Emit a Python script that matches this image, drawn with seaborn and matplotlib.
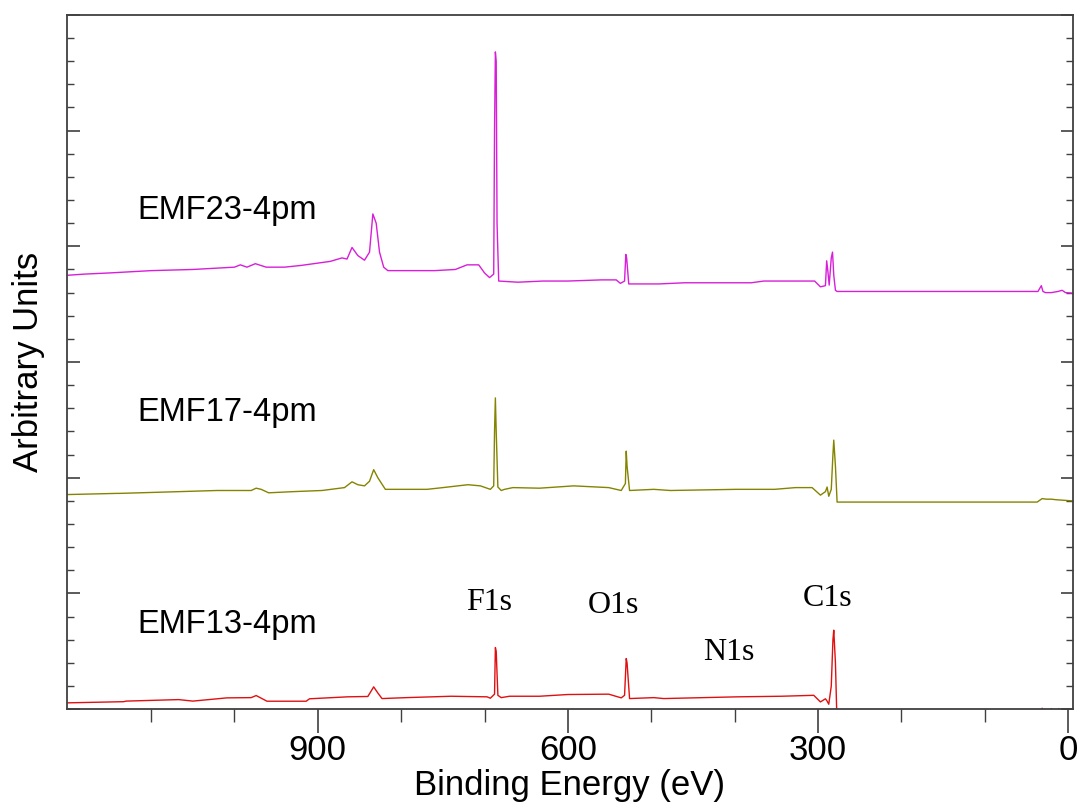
import pandas as pd
import matplotlib.pyplot as plt
import seaborn as sns
from matplotlib.ticker import FixedLocator, MultipleLocator, NullFormatter

# binding energy (eV) and intensity (arbitrary, stacked)
be_23 = [1200, 1180, 1150, 1100, 1050, 1000, 993, 985, 975, 962, 940, 920, 900, 885, 871,
         865, 859, 852, 844, 838, 834, 830, 826, 821, 816, 790, 760, 735, 721, 707, 700,
         694, 689, 688, 687, 686, 685, 683, 660, 630, 600, 560, 542, 537, 532, 530.5, 529.5,
         527, 520, 491, 460, 420, 380, 365, 330, 304, 297, 291, 289.5, 288, 286.5, 284,
         282.5, 281, 279, 277, 250, 200, 150, 100, 60, 36, 32, 30, 27, 20, 12, 7, 3, -6]
int_23 = [3.75, 3.76, 3.77, 3.79, 3.80, 3.82, 3.84, 3.82, 3.85, 3.82, 3.82, 3.835, 3.855,
          3.87, 3.90, 3.89, 3.99, 3.92, 3.88, 3.95, 4.28, 4.20, 3.95, 3.82, 3.79, 3.79, 3.79,
          3.80, 3.84, 3.84, 3.77, 3.73, 3.76, 5.00, 5.68, 5.60, 4.20, 3.70, 3.69, 3.70, 3.70,
          3.71, 3.71, 3.68, 3.70, 3.93, 3.90, 3.675, 3.675, 3.675, 3.685, 3.685, 3.685, 3.70,
          3.70, 3.70, 3.65, 3.66, 3.875, 3.78, 3.665, 3.90, 3.95, 3.75, 3.62, 3.61, 3.61,
          3.61, 3.61, 3.61, 3.61, 3.61, 3.66, 3.61, 3.60, 3.60, 3.61, 3.62, 3.60, 3.595]

be_17 = [1200, 1141, 1138, 1067, 1021, 980, 974, 968, 959, 930, 895, 868, 859, 852, 844,
         838, 833, 828, 819, 769, 750, 720, 705, 693, 689, 688, 687, 686, 684, 680, 676,
         666, 634, 593, 551, 536, 531, 530, 529, 526, 497, 477, 398, 352, 327, 307, 297,
         291, 289, 287, 284, 282, 281, 279, 277, 200, 100, 37, 31, 26, 20, 14, -6]
int_17 = [1.855, 1.865, 1.865, 1.88, 1.89, 1.89, 1.91, 1.90, 1.87, 1.88, 1.89, 1.915,
          1.965, 1.94, 1.93, 1.97, 2.07, 2.00, 1.90, 1.90, 1.915, 1.94, 1.93, 1.90, 1.93,
          2.40, 2.69, 2.40, 1.92, 1.89, 1.90, 1.915, 1.91, 1.93, 1.915, 1.89, 1.95, 2.23,
          2.10, 1.89, 1.90, 1.89, 1.90, 1.90, 1.915, 1.915, 1.85, 1.88, 1.92, 1.84, 1.90,
          2.20, 2.325, 2.10, 1.79, 1.79, 1.79, 1.79, 1.82, 1.815, 1.815, 1.81, 1.80]

be_13 = [1200, 1133, 1130, 1067, 1050, 1009, 980, 974, 961, 914, 910, 864, 840, 833, 828,
         823, 794, 740, 697, 693, 688, 687, 686, 684, 680, 670, 634, 600, 551, 536, 532,
         530, 529, 526, 497, 485, 396, 344, 305, 297, 291, 289, 287, 284, 282, 281, 279,
         277.5, 250, 150, 60, 33, 31, 29, 22, 20, 18, 13, 11, 9, -6]
int_13 = [0.055, 0.065, 0.07, 0.083, 0.07, 0.098, 0.10, 0.118, 0.069, 0.069, 0.09, 0.107,
          0.11, 0.193, 0.14, 0.092, 0.10, 0.112, 0.107, 0.095, 0.13, 0.533, 0.50, 0.12,
          0.10, 0.112, 0.112, 0.127, 0.13, 0.098, 0.12, 0.438, 0.40, 0.092, 0.10, 0.092,
          0.107, 0.112, 0.12, 0.063, 0.09, 0.07, 0.043, 0.20, 0.60, 0.683, 0.40, -0.01,
          -0.03, -0.03, -0.03, -0.03, 0.008, -0.03, -0.03, 0.005, -0.03, -0.03, 0.005,
          -0.03, -0.03]

samples = ["EMF23-4pm", "EMF17-4pm", "EMF13-4pm"]
colors = ["#d81ed8", "#848400", "#e01010"]
label_pos = [(1117, 4.31), (1117, 2.56), (1117, 0.735)]

peak_names = ["F1s", "O1s", "N1s", "C1s"]
peak_pos = [(694, 0.925), (545, 0.90), (407, 0.49), (289, 0.96)]

x_major = [900, 600, 300, 0]
x_minor = [1100, 1000, 800, 700, 500, 400, 200, 100]

df = pd.concat([
    pd.DataFrame({"be": be_23, "counts": int_23, "sample": samples[0]}),
    pd.DataFrame({"be": be_17, "counts": int_17, "sample": samples[1]}),
    pd.DataFrame({"be": be_13, "counts": int_13, "sample": samples[2]}),
])

sns.set_style("ticks")
plt.rcParams["font.family"] = ["Liberation Sans", "DejaVu Sans"]
plt.rcParams["text.color"] = "black"
plt.rcParams["axes.labelcolor"] = "black"
plt.rcParams["xtick.color"] = "black"
plt.rcParams["ytick.color"] = "black"

fig = plt.figure(figsize=(10.8, 8.05), dpi=100)
ax = fig.add_axes([0.062, 0.119, 0.9315, 0.8625])

sns.lineplot(data=df, x="be", y="counts", hue="sample", palette=dict(zip(samples, colors)),
             sort=False, estimator=None, legend=False, linewidth=1.0, ax=ax)

ax.set_xlim(1201, -6)
ax.set_ylim(0, 6)

for name, (x, y) in zip(samples, label_pos):
    ax.text(x, y, name, fontsize=23.5, ha="left", va="center", color="black")
for name, (x, y) in zip(peak_names, peak_pos):
    ax.text(x, y, name, fontsize=23, ha="center", va="center", family="Liberation Serif")

ax.xaxis.set_major_locator(FixedLocator(x_major))
ax.xaxis.set_minor_locator(FixedLocator(x_minor))
ax.yaxis.set_major_locator(MultipleLocator(1))
ax.yaxis.set_minor_locator(MultipleLocator(0.2))
ax.yaxis.set_major_formatter(NullFormatter())

ax.tick_params(axis="x", which="major", direction="out", length=17, width=1.2,
               labelsize=25, pad=1, color="#404040")
ax.tick_params(axis="x", which="minor", direction="out", length=9, width=1.0, color="#404040")
ax.tick_params(axis="y", which="major", direction="in", length=9, width=1.2,
               left=True, right=True, color="#404040")
ax.tick_params(axis="y", which="minor", direction="in", length=5, width=1.0,
               left=True, right=True, color="#404040")

for sp in ax.spines.values():
    sp.set_visible(True)
    sp.set_color("#404040")
    sp.set_linewidth(1.3)

ax.set_xlabel("Binding Energy (eV)", fontsize=25, labelpad=1.5)
ax.set_ylabel("Arbitrary Units", fontsize=25, labelpad=12)

fig.savefig("out.png", dpi=100)
